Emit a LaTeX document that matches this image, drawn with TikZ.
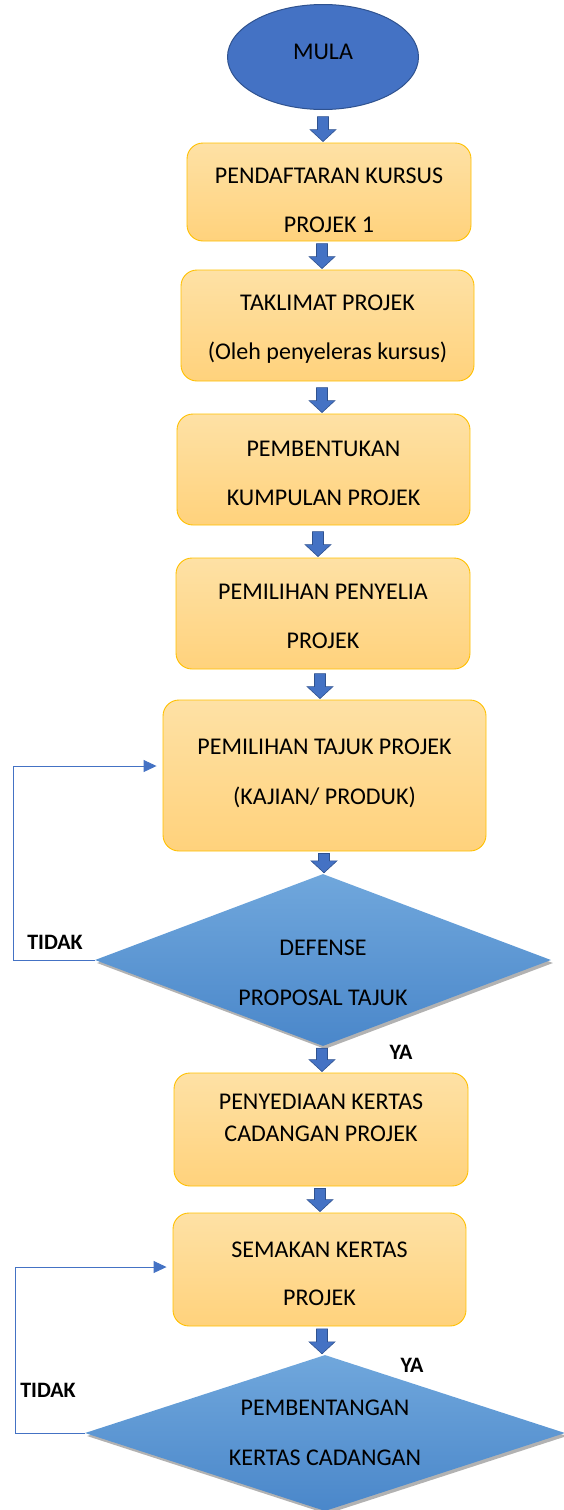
\documentclass[tikz,border=0pt]{standalone}
\usepackage{fontspec}
\setmainfont{Carlito}
\usetikzlibrary{shapes.geometric,arrows.meta,calc,shadows}
\definecolor{boxtop}{HTML}{FEE1A5}
\definecolor{boxbot}{HTML}{FFD27C}
\definecolor{boxline}{HTML}{FFC000}
\definecolor{accblue}{HTML}{4472C4}
\definecolor{darkblue}{HTML}{2F528F}
\definecolor{dtop}{HTML}{70A7DC}
\definecolor{dbot}{HTML}{4A87CA}
\newcommand\tl[3]{\raisebox{#1}[\height][\depth]{\fontsize{24}{#2}\selectfont\begin{tabular}{@{}c@{}}#3\end{tabular}}}
\newcommand\tlz[3]{\raisebox{#1}[0pt][0pt]{\fontsize{24}{#2}\selectfont\begin{tabular}{@{}c@{}}#3\end{tabular}}}
\newcommand\barrow[3]{%
  \draw[barr] let \p1=(#2.south), \p2=(#3.north),
    \n1={min(\y1-2pt,\y2+26pt)}, \n2={\y2+1pt} in
    (#1pt-5.5pt,\n1) -- (#1pt+5.5pt,\n1) -- (#1pt+5.5pt,\n2+12pt) -- (#1pt+13pt,\n2+12pt)
    -- (#1pt,\n2) -- (#1pt-13pt,\n2+12pt) -- (#1pt-5.5pt,\n2+12pt) -- cycle;}
\tikzset{
  procbox/.style={rectangle, rounded corners=16pt, draw=boxline, line width=0.9pt,
    top color=boxtop, bottom color=boxbot, inner sep=0pt, text=black},
  decision/.style={diamond, inner sep=0pt, top color=dtop, bottom color=dbot,
    drop shadow={shadow xshift=2pt, shadow yshift=-3pt, opacity=0.3, fill=black}, text=black},
  startnode/.style={ellipse, fill=accblue, draw=darkblue, line width=1pt, inner sep=0pt,
    font=\fontsize{24}{28}\selectfont, text=black},
  barr/.style={fill=accblue, draw=darkblue, line width=0.6pt},
  fb/.style={draw=accblue, line width=0.9pt, -{Triangle[length=13pt,width=12pt]}},
  lbl/.style={font=\fontsize{22}{26}\selectfont\bfseries, inner sep=0pt, text=black}
}
\begin{document}
\begin{tikzpicture}[x=1pt,y=1pt]
\useasboundingbox (0,0) rectangle (563,-1510);
\node[startnode, minimum width=191pt, minimum height=105pt] (mula) at (323,-57) {\raisebox{5pt}[\height][\depth]{MULA}};
\node[procbox, minimum width=284pt, minimum height=98pt] (b1) at (329,-192) {\tl{-6.5pt}{49}{PENDAFTARAN KURSUS\\PROJEK 1}};
\node[procbox, minimum width=293pt, minimum height=111pt] (b2) at (327.5,-325.5) {\tl{0pt}{49}{TAKLIMAT PROJEK\\(Oleh penyeleras kursus)}};
\node[procbox, minimum width=293pt, minimum height=111pt] (b3) at (323.5,-469.5) {\tl{-2pt}{49}{PEMBENTUKAN\\KUMPULAN PROJEK}};
\node[procbox, minimum width=294pt, minimum height=111pt] (b4) at (323,-613.5) {\tl{-1pt}{49}{PEMILIHAN PENYELIA\\PROJEK}};
\node[procbox, minimum width=323pt, minimum height=151pt] (b5) at (324.5,-775.5) {\tl{6pt}{50}{PEMILIHAN TAJUK PROJEK\\(KAJIAN/ PRODUK)}};
\node[decision, aspect=2.65, minimum width=456pt, minimum height=172pt] (d1) at (323,-960) {\tlz{-17pt}{50}{DEFENSE\\PROPOSAL TAJUK}};
\node[procbox, minimum width=294pt, minimum height=113pt] (b6) at (321,-1129.5) {\tl{10.5pt}{32}{PENYEDIAAN KERTAS\\CADANGAN PROJEK}};
\node[procbox, minimum width=293pt, minimum height=113pt] (b7) at (319.5,-1269.5) {\tl{-2.5pt}{48}{SEMAKAN KERTAS\\PROJEK}};
\node[decision, aspect=3.08, minimum width=480pt, minimum height=156pt] (d2) at (325,-1433) {\tlz{-4pt}{50}{PEMBENTANGAN\\KERTAS CADANGAN}};
\barrow{323}{mula}{b1}
\barrow{322}{b1}{b2}
\barrow{322}{b2}{b3}
\barrow{318}{b3}{b4}
\barrow{320}{b4}{b5}
\barrow{324}{b5}{d1}
\barrow{322}{d1}{b6}
\barrow{320}{b6}{b7}
\barrow{322}{b7}{d2}
\coordinate (c1) at (13,-766);
\draw[fb] (d1.west) -| (c1) -- ([xshift=-6pt,yshift=9.5pt]b5.west);
\coordinate (c2) at (15,-1267);
\draw[fb] (d2.west) -| (c2) -- ([xshift=-6pt,yshift=2.5pt]b7.west);
\node[lbl] (t1) at (55,-942) {TIDAK};
\node[lbl] (y1) at (401,-1052) {YA};
\node[lbl] (t2) at (48,-1390) {TIDAK};
\node[lbl] (y2) at (412,-1365) {YA};
\end{tikzpicture}
\end{document}
